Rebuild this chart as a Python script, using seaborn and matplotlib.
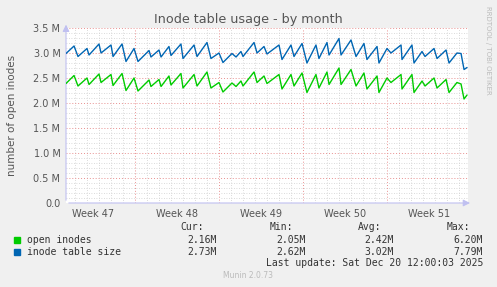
import numpy as np
import pandas as pd
import matplotlib
matplotlib.use("Agg")
import matplotlib.pyplot as plt
from matplotlib.ticker import MultipleLocator, FixedLocator
import seaborn as sns

# time in days from left edge of the graph
days = [0.0, 0.67, 1.0, 1.75, 1.92, 2.75, 2.92, 3.75, 3.92, 4.67,
        5.0, 5.67, 6.0, 6.92, 7.08, 7.75, 7.92, 8.58, 8.75, 9.58,
        9.75, 10.67, 10.92, 11.75, 12.08, 12.75, 13.08, 13.83, 14.17, 14.58,
        14.75, 15.67, 15.92, 16.5, 16.75, 17.75, 18.0, 18.75, 19.0, 19.67,
        20.08, 20.83, 21.08, 21.75, 21.92, 22.75, 22.92, 23.75, 24.17, 24.83,
        25.08, 25.92, 26.08, 26.75, 27.08, 27.92, 28.0, 28.83, 29.0, 29.67,
        29.92, 30.67, 30.92, 31.67, 31.92, 32.58, 32.92, 33.17, 33.42]

# values in millions
table_size = [2.99, 3.14, 2.93, 3.09, 2.96, 3.18, 3.00, 3.16, 2.93, 3.18,
              2.83, 3.09, 2.83, 3.05, 2.92, 3.06, 2.92, 3.13, 2.95, 3.18,
              2.89, 3.16, 2.93, 3.21, 2.89, 3.00, 2.81, 2.99, 2.92, 3.03,
              2.93, 3.21, 3.00, 3.13, 2.98, 3.16, 2.87, 3.16, 2.93, 3.19,
              2.80, 3.16, 2.89, 3.21, 2.96, 3.29, 2.96, 3.26, 2.93, 3.19,
              2.87, 3.13, 2.80, 3.09, 3.00, 3.16, 2.87, 3.16, 2.80, 3.03,
              2.93, 3.09, 2.89, 3.06, 2.80, 3.00, 2.99, 2.67, 2.71]

open_inodes = [2.39, 2.55, 2.34, 2.50, 2.37, 2.58, 2.41, 2.57, 2.35, 2.59,
               2.25, 2.50, 2.24, 2.46, 2.33, 2.47, 2.33, 2.54, 2.36, 2.59,
               2.30, 2.57, 2.34, 2.62, 2.30, 2.41, 2.22, 2.40, 2.33, 2.44,
               2.34, 2.62, 2.41, 2.54, 2.39, 2.57, 2.28, 2.57, 2.34, 2.60,
               2.21, 2.57, 2.30, 2.62, 2.37, 2.70, 2.37, 2.67, 2.34, 2.60,
               2.28, 2.54, 2.21, 2.50, 2.41, 2.57, 2.28, 2.57, 2.21, 2.44,
               2.34, 2.50, 2.30, 2.47, 2.21, 2.41, 2.38, 2.08, 2.16]

week_labels = ["Week 47", "Week 48", "Week 49", "Week 50", "Week 51"]
week_starts = [5.75, 12.75, 19.75, 26.75]
week_centers = [2.25, 9.25, 16.25, 23.25, 30.25]

legend_names = ["open inodes", "inode table size"]
legend_colors = ["#00CC00", "#0066B3"]
cur = ["2.16M", "2.73M"]
mins = ["2.05M", "2.62M"]
avgs = ["2.42M", "3.02M"]
maxs = ["6.20M", "7.79M"]

df = pd.DataFrame({"day": days, "open inodes": open_inodes, "inode table size": table_size})
long = df.melt(id_vars="day", var_name="series", value_name="value")

sns.set_style("white")
plt.rcParams["font.family"] = ["DejaVu Sans"]

W, H = 497, 287
fig = plt.figure(figsize=(W / 100, H / 100), dpi=100)
fig.patch.set_facecolor("#F0F0F0")
ax = fig.add_axes([66 / W, 1 - 203 / H, 402 / W, 175 / H])
ax.set_facecolor("white")
ax.set_axisbelow(True)

sns.lineplot(data=long, x="day", y="value", hue="series",
             hue_order=legend_names, palette=legend_colors,
             linewidth=1.0, ax=ax, legend=False, zorder=5)
ax.set_xlabel("")
ax.set_ylabel("")

ax.set_xlim(0, 33.5)
ax.set_ylim(0, 3.5)

# grid
red_grid = "#E89090"
ax.xaxis.set_minor_locator(FixedLocator(np.arange(0.75, 33.5, 1.0)))
ax.yaxis.set_minor_locator(MultipleLocator(0.1))
ax.yaxis.set_major_locator(MultipleLocator(0.5))
ax.grid(which="minor", color="#CFCFCF", linestyle=(0, (1, 2)), linewidth=0.6)
ax.grid(which="major", axis="y", color=red_grid, linestyle=(0, (1, 2)), linewidth=0.7)
for ws in week_starts:
    ax.axvline(ws, color="white", linewidth=0.9, zorder=2)
    ax.axvline(ws, color=red_grid, linestyle=(0, (1, 2)), linewidth=0.7, zorder=3)

ax.set_xticks(week_centers)
ax.set_xticklabels(week_labels)
ax.set_yticklabels([f"{v:.1f} M" if v > 0 else "0.0" for v in ax.get_yticks()])
ax.tick_params(axis="both", which="both", length=0, labelsize=7, labelcolor="#555555", pad=4)

for s in ax.spines.values():
    s.set_visible(False)

axis_col = "#C0C0F0"
ax.annotate("", xy=(1.012, 0), xytext=(0, 0), xycoords="axes fraction",
            arrowprops=dict(arrowstyle="-|>,head_width=0.2,head_length=0.4", color=axis_col, lw=0.8),
            annotation_clip=False)
ax.annotate("", xy=(0, 1.035), xytext=(0, 0), xycoords="axes fraction",
            arrowprops=dict(arrowstyle="-|>,head_width=0.2,head_length=0.4", color=axis_col, lw=0.8),
            annotation_clip=False)

def fx(x):
    return x / W

def fy(y):
    return 1 - y / H

fig.text(fx(248), fy(19), "Inode table usage - by month", ha="center", va="center",
         fontsize=9.2, color="#555555")
fig.text(fx(12), fy(115), "number of open inodes", rotation=90, ha="center", va="center",
         fontsize=7.5, color="#555555")
fig.text(fx(488), fy(6), "RRDTOOL / TOBI OETIKER", rotation=270, ha="center", va="top",
         fontsize=5, color="#BBBBBB")

mono = dict(family="DejaVu Sans Mono", fontsize=7, color="#333333", va="center")
for txt, x in zip(["Cur:", "Min:", "Avg:", "Max:"], [204, 293, 381, 470]):
    fig.text(fx(x), fy(227), txt, ha="right", **mono)
rows_y = [240, 252]
for i in range(2):
    y = rows_y[i]
    fig.patches.append(plt.Rectangle((fx(14), fy(y + 3)), 6 / W, 6 / H,
                                     transform=fig.transFigure, color=legend_colors[i]))
    fig.text(fx(27), fy(y), legend_names[i], ha="left", **mono)
    for val, x in zip([cur[i], mins[i], avgs[i], maxs[i]], [217, 306, 394, 483]):
        fig.text(fx(x), fy(y), val, ha="right", **mono)
fig.text(fx(483), fy(263), "Last update: Sat Dec 20 12:00:03 2025", ha="right", **mono)
fig.text(fx(248), fy(276), "Munin 2.0.73", ha="center", va="center", fontsize=5.5, color="#BBBBBB")

fig.savefig("out.png", dpi=100, facecolor=fig.get_facecolor())
